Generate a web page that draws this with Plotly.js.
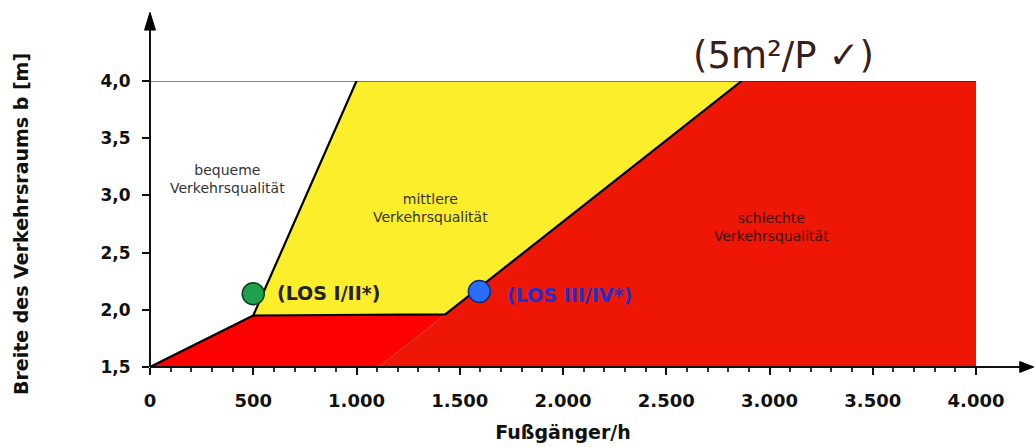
<!DOCTYPE html>
<html>
<head>
<meta charset="utf-8">
<script src="https://cdn.plot.ly/plotly-3.0.1.min.js"></script>
<style>html,body{margin:0;padding:0;background:#fff;}#chart{width:1034px;height:447px;}</style>
</head>
<body>
<div id="chart"></div>
<script>
// ---- data ----
const xTickVals = [0, 500, 1000, 1500, 2000, 2500, 3000, 3500, 4000];
const xTickText = ['0', '500', '1.000', '1.500', '2.000', '2.500', '3.000', '3.500', '4.000'];
const yTickVals = [1.5, 2.0, 2.5, 3.0, 3.5, 4.0];
const yTickText = ['1,5', '2,0', '2,5', '3,0', '3,5', '4,0'];

// region polygons (Fußgänger/h, width m)
const yellowX = [500, 1000, 2865, 1430];
const yellowY = [1.95, 4.0, 4.0, 1.96];
const redLeftX = [0, 500, 1430, 1107];
const redLeftY = [1.5, 1.95, 1.96, 1.5];
const redRightX = [1107, 1430, 2865, 4000, 4000];
const redRightY = [1.5, 1.96, 4.0, 4.0, 1.5];

// boundary lines
const boundary1X = [0, 500, 1000];
const boundary1Y = [1.5, 1.95, 4.0];
const boundary2X = [500, 1430, 2865];
const boundary2Y = [1.95, 1.96, 4.0];
const topLineX = [0, 4000];
const topLineY = [4.0, 4.0];

// LOS points
const losGreen = {x: [500], y: [2.14]};
const losBlue = {x: [1595], y: [2.16]};

const F = 'DejaVu Sans, Liberation Sans, Arial, sans-serif';

const traces = [
  {x: redLeftX, y: redLeftY, type: 'scatter', mode: 'none', fill: 'toself', fillcolor: '#ff0000', hoverinfo: 'skip'},
  {x: redRightX, y: redRightY, type: 'scatter', mode: 'none', fill: 'toself', fillcolor: '#ee1706', hoverinfo: 'skip'},
  {x: yellowX, y: yellowY, type: 'scatter', mode: 'none', fill: 'toself', fillcolor: '#fdee2c', hoverinfo: 'skip'},
  {x: topLineX, y: topLineY, type: 'scatter', mode: 'lines', line: {color: '#111', width: 1}, hoverinfo: 'skip'},
  {x: boundary1X, y: boundary1Y, type: 'scatter', mode: 'lines', line: {color: '#000', width: 2.2}, hoverinfo: 'skip'},
  {x: boundary2X, y: boundary2Y, type: 'scatter', mode: 'lines', line: {color: '#000', width: 2.2}, hoverinfo: 'skip'},
  {x: losGreen.x, y: losGreen.y, type: 'scatter', mode: 'markers', cliponaxis: false,
   marker: {size: 22, color: '#1ea04c', line: {color: '#0d3a1c', width: 1.5}}, hoverinfo: 'skip'},
  {x: losBlue.x, y: losBlue.y, type: 'scatter', mode: 'markers', cliponaxis: false,
   marker: {size: 22, color: '#2a6cf5', line: {color: '#0b2a80', width: 1.5}}, hoverinfo: 'skip'}
];

const layout = {
  width: 1034, height: 447,
  margin: {l: 150, r: 58, t: 81, b: 80},
  paper_bgcolor: '#fff', plot_bgcolor: '#fff',
  showlegend: false,
  font: {family: F, color: '#111'},
  xaxis: {
    range: [0, 4000], showgrid: false, zeroline: false, showline: false,
    tickmode: 'array', tickvals: xTickVals, ticktext: xTickText,
    ticks: 'outside', ticklen: 7, tickwidth: 2, tickcolor: '#111',
    minor: {dtick: 100, tick0: 0, ticks: 'outside', ticklen: 4, tickwidth: 2, tickcolor: '#333', showgrid: false},
    tickfont: {family: F, size: 18, color: '#111', weight: 'bold'},
    ticklabelstandoff: 10,
    title: {text: '<b>Fußgänger/h</b>', font: {family: F, size: 19, color: '#111'}, standoff: 16},
    fixedrange: true
  },
  yaxis: {
    range: [1.5, 4.0], showgrid: false, zeroline: false, showline: false,
    tickmode: 'array', tickvals: yTickVals, ticktext: yTickText,
    ticks: 'outside', ticklen: 7, tickwidth: 2, tickcolor: '#111',
    tickfont: {family: F, size: 17, color: '#111', weight: 'bold'},
    ticklabelstandoff: 8,
    title: {text: '<b>Breite des Verkehrsraums b [m]</b>', font: {family: F, size: 19, color: '#111'}, standoff: 66},
    fixedrange: true
  },
  shapes: [
    // y axis line with arrow
    {type: 'line', xref: 'paper', yref: 'paper', x0: 0, x1: 0, y0: 0, y1: 1.185, line: {color: '#111', width: 2}},
    {type: 'path', xref: 'paper', yref: 'paper', path: 'M -0.0066 1.178 L 0.0066 1.178 L 0 1.240 Z', fillcolor: '#000', line: {color: '#000', width: 1}},
    // x axis line with arrow
    {type: 'line', xref: 'paper', yref: 'paper', x0: 0, x1: 1.056, y0: 0, y1: 0, line: {color: '#111', width: 2}},
    {type: 'path', xref: 'paper', yref: 'paper', path: 'M 1.053 -0.019 L 1.053 0.019 L 1.070 0 Z', fillcolor: '#000', line: {color: '#000', width: 1}}
  ],
  annotations: [
    {x: 373, y: 3.14, xref: 'x', yref: 'y', text: 'bequeme<br>Verkehrsqualität', showarrow: false,
     font: {family: F, size: 14, color: '#333'}},
    {x: 1356, y: 2.89, xref: 'x', yref: 'y', text: 'mittlere<br>Verkehrsqualität', showarrow: false,
     font: {family: F, size: 14, color: '#333'}},
    {x: 3012, y: 2.72, xref: 'x', yref: 'y', text: 'schlechte<br>Verkehrsqualität', showarrow: false,
     font: {family: F, size: 14, color: '#3a0a05'}},
    {x: 605, y: 2.145, xref: 'x', yref: 'y', xanchor: 'left', text: '<b>(LOS I/II*)</b>', showarrow: false,
     font: {family: F, size: 19, color: '#222'}},
    {x: 1719, y: 2.13, xref: 'x', yref: 'y', xanchor: 'left', text: '<b>(LOS III/IV*)</b>', showarrow: false,
     font: {family: F, size: 19, color: '#2030d0'}},
    {x: 0.767, y: 1.088, xref: 'paper', yref: 'paper', xanchor: 'center', yanchor: 'middle', text: '(5m²/P ✓)', showarrow: false,
     font: {family: F, size: 37, color: '#3a1e1e'}}
  ]
};

Plotly.newPlot('chart', traces, layout, {staticPlot: true, displayModeBar: false});
</script>
</body>
</html>
